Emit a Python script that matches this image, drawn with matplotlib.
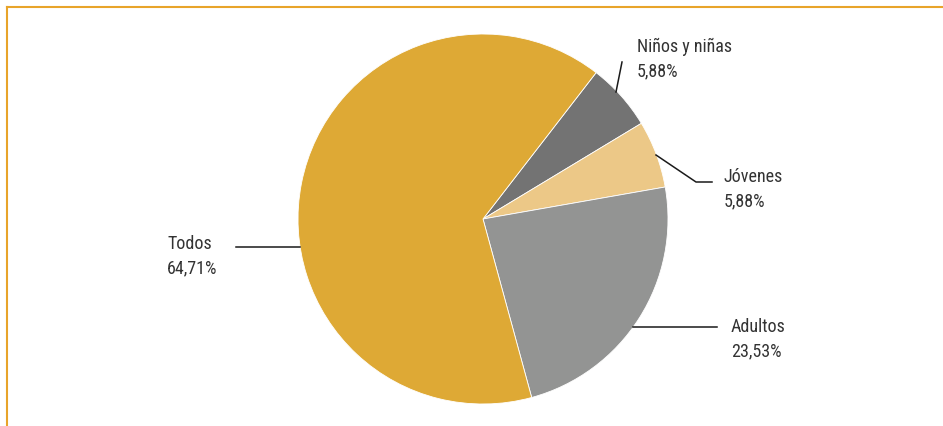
import matplotlib
matplotlib.use("Agg")
import matplotlib.pyplot as plt
from matplotlib.lines import Line2D

# Share of actions by target population
categories = ["Niños y niñas", "Jóvenes", "Adultos", "Todos"]
values = [5.88, 5.88, 23.53, 64.71]
value_labels = ["5,88%", "5,88%", "23,53%", "64,71%"]
colors = ["#737373", "#ecc887", "#939493", "#dea935"]

W, H = 943, 427
fig = plt.figure(figsize=(W / 100, H / 100), dpi=100)
ax = fig.add_axes([0, 0, 1, 1])
ax.axis("off")

def py(y):
    # pixel row (from top) to axes y
    return H - y

ax.pie(values, colors=colors, startangle=52.3, counterclock=False,
       center=(483, py(220)), radius=185,
       wedgeprops=dict(edgecolor="white", linewidth=0.6))
ax.set_xlim(0, W)
ax.set_ylim(0, H)
ax.set_aspect("equal")

# Frame lines along top and left
frame_col = "#e8a42a"
fig.add_artist(Line2D([7 / W, 1], [py(8) / H, py(8) / H], color=frame_col, lw=1.5))
fig.add_artist(Line2D([7 / W, 7 / W], [0, py(8) / H], color=frame_col, lw=1.5))

# Leader lines and labels (pixel positions from the top-left corner)
leaders = {
    "Niños y niñas": [(616, 93), (622, 63)],
    "Jóvenes": [(656, 156), (696, 183), (712, 183)],
    "Adultos": [(633, 328), (717, 328)],
    "Todos": [(300, 248), (236, 248)],
}
label_pos = {
    "Niños y niñas": (637, 52),
    "Jóvenes": (724, 182),
    "Adultos": (731, 332),
    "Todos": (167, 249),
}
line_gap = 24
font = ["Roboto Condensed", "Liberation Sans Narrow", "Roboto", "DejaVu Sans"]
txt_col = "#333333"
for cat, lab in zip(categories, value_labels):
    pts = leaders[cat]
    ax.plot([p[0] for p in pts], [py(p[1]) for p in pts], color="#1a1a1a", lw=1.1)
    x, y = label_pos[cat]
    for i, s in enumerate((cat, lab)):
        ax.text(x, py(y + i * line_gap), s, ha="left", va="baseline",
                fontsize=13, family=font, color=txt_col)

fig.savefig("out.png", dpi=100)
